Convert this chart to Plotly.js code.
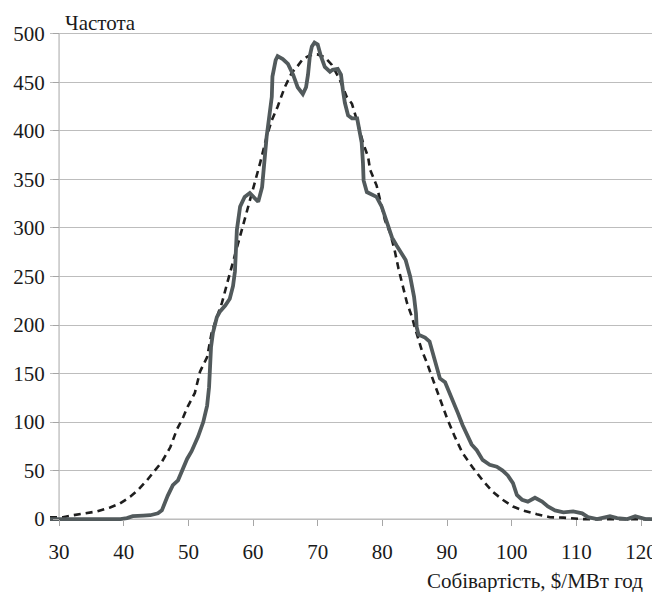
<!DOCTYPE html>
<html>
<head>
<meta charset="utf-8">
<script src="https://cdn.plot.ly/plotly-3.0.1.min.js"></script>
<style>html,body{margin:0;padding:0;background:#fff}#chart{width:652px;height:592px}</style>
</head>
<body>
<div id="chart"></div>
<script>
// Observed frequency (solid line)
const freqX = [28.6,39.5,40.5,41.4,43.0,44.1,45.3,45.9,46.8,47.6,48.4,49.0,49.8,50.5,51.2,51.5,52.3,52.9,53.2,53.3,53.5,53.8,54.4,54.9,55.7,56.4,56.9,57.2,57.5,58.0,58.7,59.5,60.0,60.8,61.4,61.8,62.1,62.3,62.6,62.9,63.0,63.5,63.8,64.6,65.4,66.2,66.9,67.7,68.2,68.5,68.8,69.1,69.5,70.0,70.5,71.1,71.9,72.3,73.1,73.6,73.9,74.2,74.7,75.3,76.1,76.4,76.8,77.0,77.1,77.6,78.4,79.1,79.9,80.5,81.0,81.5,82.2,83.0,83.6,84.3,84.9,85.2,85.3,85.6,86.6,87.3,87.8,88.4,88.9,89.7,90.1,90.9,91.7,92.4,93.2,93.8,94.6,95.5,96.6,97.7,98.6,99.4,100.2,100.8,101.6,102.5,103.6,104.7,105.6,106.7,108.0,109.5,110.9,111.8,113.2,114.1,115.2,116.3,117.9,119.1,119.9,120.7,121.7];
const freqY = [0,0,1,3,3.5,4,6,9,24,35,40,50,62,70,80,85,100,117,136,154,177,192,208,214,220,227,240,255,298,322,332,336,332,327,342,378,394,404,418,435,456,473,477,474,469,458,445,438,445,458,478,487,491,489,477,466,461,463,464,458,442,429,416,413,413,404,388,367,349,337,334,332,322,310,298,290,282,274,267,250,229,212,198,190,187,183,171,154,145,141,135,123,109,97,85,77,71,61,56,54,50,45,37,25,20,18,22,18,13,9,7,8,6,2,0,1,3,1,0,3,1,0,0];

// Fitted distribution (dashed line)
const fitX = [28.6,30.6,32.2,34.0,35.9,37.9,39.4,41.0,42.2,43.6,44.8,45.9,47.2,48.2,49.2,49.9,51.0,51.8,52.9,53.6,54.4,55.2,56.0,58.0,59.1,60.3,61.1,62.1,62.9,63.8,64.9,66.0,66.8,67.7,68.8,69.9,71.1,72.2,73.4,74.5,75.3,76.2,77.0,77.8,78.1,79.1,79.6,80.4,81.2,81.9,82.5,83.2,83.8,84.6,85.0,86.1,86.9,87.7,88.6,90.0,91.2,92.4,94.0,95.5,97.1,98.6,100.2,101.7,103.9,105.9,108.0,111.1,121.7];
const fitY = [2,2,4,6,8,12,16,23,30,40,50,59,74,92,105,116,130,152,167,192,208,223,243,291,319,346,367,394,411,425,445,460,466,474,478,479,476,468,453,435,428,408,388,373,360,344,329,308,295,277,258,239,223,208,198,174,161,146,130,104,85,68,53,40,28,20,13,9,5,2,1.5,0,0];

const xTicks = [30,40,50,60,70,80,90,100,110,120];
const yTicks = [0,50,100,150,200,250,300,350,400,450,500];

const xMin = 28.6, xMax = 121.7, yMin = -4, yMax = 504;
const axisColor = '#a6a6a6';
const font = {family: 'Liberation Serif', size: 21, color: '#1a1a1a'};

const traces = [
  {x: fitX, y: fitY, type: 'scatter', mode: 'lines', hoverinfo: 'skip',
   line: {color: '#1e1e1e', width: 2.6, dash: '7px,5px'}},
  {x: freqX, y: freqY, type: 'scatter', mode: 'lines', hoverinfo: 'skip',
   line: {color: '#525a5c', width: 3.8}}
];

const layout = {
  width: 652, height: 592,
  margin: {l: 50, r: 0, t: 30, b: 69, pad: 0},
  paper_bgcolor: '#fff', plot_bgcolor: '#fff',
  showlegend: false,
  font: font,
  xaxis: {
    range: [xMin, xMax], tickvals: xTicks, ticktext: xTicks.map(String),
    showgrid: false, zeroline: false, showline: false,
    ticks: 'outside', ticklen: 6, tickcolor: axisColor, tickwidth: 1,
    anchor: 'free', position: (0 - yMin) / (yMax - yMin),
    ticklabelstandoff: 8, ticklabeloverflow: 'allow', tickfont: font
  },
  yaxis: {
    range: [yMin, yMax], tickvals: yTicks, ticktext: yTicks.map(String),
    showgrid: true, gridcolor: '#bdbdbd', gridwidth: 1,
    zeroline: false, showline: false,
    ticks: 'outside', ticklen: 6, tickcolor: axisColor, tickwidth: 1,
    anchor: 'free', position: (30 - xMin) / (xMax - xMin),
    ticklabelstandoff: 4, ticklabeloverflow: 'allow', tickfont: font
  },
  shapes: [
    {type: 'line', xref: 'x', yref: 'y', x0: 30, x1: 30, y0: 0, y1: 500,
     line: {color: axisColor, width: 1}, layer: 'below'},
    {type: 'line', xref: 'x', yref: 'y', x0: xMin, x1: xMax, y0: 0, y1: 0,
     line: {color: axisColor, width: 1}, layer: 'below'}
  ],
  annotations: [
    {text: 'Частота', xref: 'paper', yref: 'paper', x: 0.0216, y: 1.0142,
     xanchor: 'left', yanchor: 'middle', showarrow: false, font: font},
    {text: 'Собівартість, $/МВт год', xref: 'paper', yref: 'paper', x: 0.989, y: -0.1176,
     xanchor: 'right', yanchor: 'middle', showarrow: false, font: font}
  ]
};

Plotly.newPlot('chart', traces, layout, {displayModeBar: false, staticPlot: true});
</script>
</body>
</html>
